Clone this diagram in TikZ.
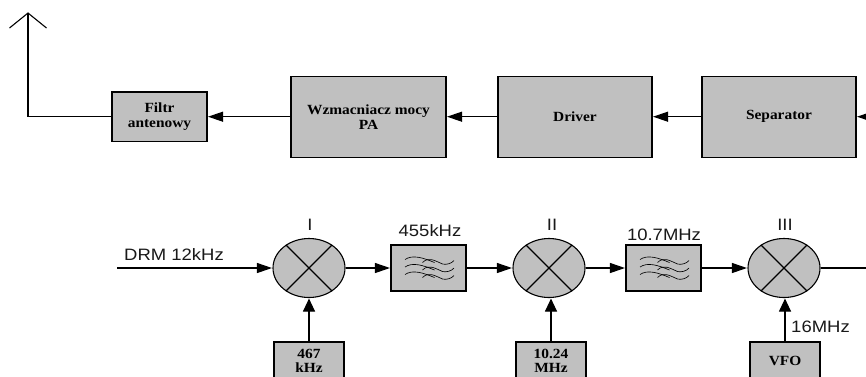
\documentclass[tikz,border=0pt]{standalone}
\usepackage{fontspec}
\setmainfont{Liberation Serif}
\newfontfamily\labfont[FakeStretch=1.12]{Liberation Sans}
\newfontfamily\boxfont[FakeStretch=1.1]{Liberation Serif}
\usetikzlibrary{arrows.meta,shapes.geometric}
\definecolor{boxgray}{RGB}{192,192,192}
\tikzset{
  blk/.style={draw=black,fill=boxgray,line width=1.1pt,inner sep=0pt,align=center,
    font=\boxfont\fontsize{14}{15}\selectfont\bfseries},
  mix/.style={draw=black,fill=boxgray,line width=1.1pt,ellipse,inner sep=0pt,
    minimum width=72pt,minimum height=59pt},
  lab/.style={font=\labfont\fontsize{16.5}{18}\selectfont,inner sep=0pt,text=black!90},
  con/.style={line width=1.1pt,draw=black},
  arr/.style={con,-{Triangle[length=15pt,width=10pt]},shorten >=0.5pt},
  varr/.style={con,-{Triangle[length=13pt,width=12pt]},shorten >=0.5pt},
  wave/.style={line width=.65pt,draw=black}
}
\newcommand{\filterglyph}[1]{%
  \foreach \dy in {-8.5,-1,6.5}{%
    \draw[wave,shift={(#1.center)}] (-23.5,\dy) .. controls (-16,\dy-5) and (-6,\dy-2) .. (6,\dy+3);
    \draw[wave,shift={(#1.center)}] (-6,\dy+3) .. controls (0,\dy-3) and (6,\dy+1) .. (14,\dy+4.5)
      .. controls (18,\dy+5.5) and (23,\dy+4) .. (25.5,\dy+1);
  }%
}
\begin{document}
\begin{tikzpicture}[x=1pt,y=-1pt]
\useasboundingbox (0,0) rectangle (866,376);
\begin{scope}
\clip (0,0) rectangle (866,376);
% upper chain
\node[blk,minimum width=95pt,minimum height=49.5pt] (filtr) at (159.5,116.7) {\raisebox{-1pt}{Filtr}\\\raisebox{-1pt}{antenowy}};
\node[blk,minimum width=155pt,minimum height=81pt] (pa) at (368.5,116.7) {Wzmacniacz mocy\\PA};
\node[blk,minimum width=154pt,minimum height=81pt] (driver) at (575,116.7) {Driver};
\node[blk,minimum width=154pt,minimum height=81pt] (sep) at (779,116.7) {Separator};
\coordinate (inR) at (870,116.7);
\coordinate (ant) at (28,13);
\coordinate (antL) at (9.5,28);
\coordinate (antR) at (46.5,28);
\draw[arr] (inR) -- (sep);
\draw[arr] (sep) -- (driver);
\draw[arr] (driver) -- (pa);
\draw[arr] (pa) -- (filtr);
\draw[con,line join=miter] (filtr.west) -| (ant);
\draw[con,line join=miter] (antL) -- (ant) -- (antR);
% lower chain
\node[mix] (m1) at (309,268) {};
\node[mix] (m2) at (549,268) {};
\node[mix] (m3) at (784,268) {};
\foreach \m in {m1,m2,m3}{
  \draw[con] (\m.45) -- (\m.225);
  \draw[con] (\m.135) -- (\m.315);
}
\node[blk,minimum width=75pt,minimum height=46pt] (f1) at (428.5,268) {};
\node[blk,minimum width=75pt,minimum height=46pt] (f2) at (663.5,268) {};
\filterglyph{f1}
\filterglyph{f2}
\node[blk,minimum width=70pt,minimum height=38pt,font=\boxfont\fontsize{14}{14.5}\selectfont\bfseries] (o1) at (309,361) {467\\kHz};
\node[blk,minimum width=70pt,minimum height=38pt,font=\boxfont\fontsize{14}{14.5}\selectfont\bfseries] (o2) at (551,361) {10.24\\MHz};
\node[blk,minimum width=70pt,minimum height=38pt] (o3) at (785,361) {VFO};
\coordinate (drm) at (117,268);
\coordinate (outR) at (870,268);
\draw[arr] (drm) -- (m1);
\draw[arr] (m1) -- (f1);
\draw[arr] (f1) -- (m2);
\draw[arr] (m2) -- (f2);
\draw[arr] (f2) -- (m3);
\draw[con] (m3) -- (outR);
\draw[varr] (o1) -- (m1);
\draw[varr] (o2.north) -- (o2.north |- m2.south);
\draw[varr] (o3.north) -- (o3.north |- m3.south);
\node[lab] (tdrm) at (174,255) {DRM 12kHz};
\node[lab] (ti) at (310,225) {I};
\node[lab] (tii) at (552,225) {II};
\node[lab] (tiii) at (785,225) {III};
\node[lab] (t455) at (430,231) {455kHz};
\node[lab] (t107) at (664,235) {10.7MHz};
\node[lab] (t16) at (820.5,327) {16MHz};
\end{scope}
\end{tikzpicture}
\end{document}
